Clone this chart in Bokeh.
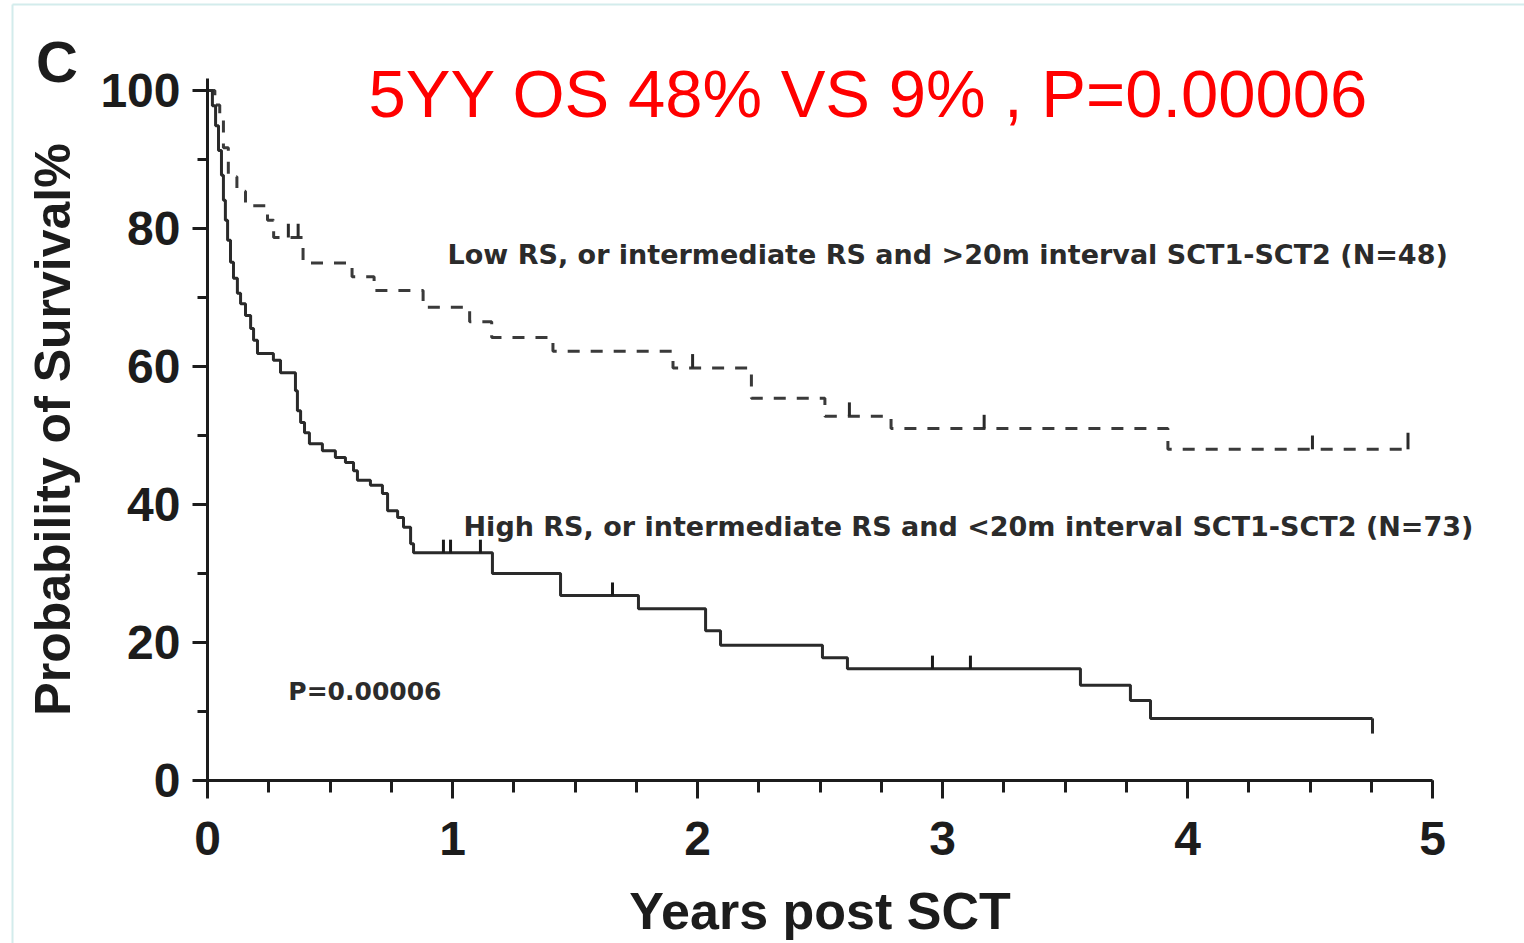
from bokeh.plotting import figure
from bokeh.models import Range1d, SingleIntervalTicker, Label
from bokeh.embed import file_html
from bokeh.resources import INLINE

# Kaplan-Meier steps: Low RS, or intermediate RS and >20m interval (N=48)
low_time = [0, 0.03, 0.05, 0.065, 0.085, 0.12, 0.155, 0.245, 0.27, 0.39, 0.59,
            0.68, 0.88, 1.07, 1.16, 1.41, 1.90, 2.22, 2.52, 2.79, 3.92, 4.90]
low_surv = [100, 97.9, 95.8, 91.7, 87.5, 85.4, 83.3, 81.2, 78.7, 75.0, 73.0,
            71.0, 68.6, 66.5, 64.2, 62.2, 59.8, 55.4, 52.8, 51.0, 48.0, 48.0]
low_censor = [0.33, 0.37, 1.98, 2.62, 3.17, 4.51]

# Kaplan-Meier steps: High RS, or intermediate RS and <20m interval (N=73)
high_time = [0, 0.020, 0.033, 0.045, 0.057, 0.065, 0.073, 0.082, 0.094, 0.106,
             0.122, 0.135, 0.155, 0.176, 0.188, 0.204, 0.269, 0.298, 0.359, 0.367,
             0.380, 0.396, 0.416, 0.469, 0.522, 0.563, 0.596, 0.612, 0.665, 0.714,
             0.735, 0.776, 0.800, 0.829, 0.841, 1.163, 1.441, 1.759, 2.033, 2.094,
             2.510, 2.612, 3.563, 3.767, 3.849, 4.755]
high_surv = [100, 97.8, 94.9, 91.3, 87.7, 84.1, 81.2, 78.3, 75.1, 72.8,
             70.6, 69.1, 67.4, 65.5, 63.8, 61.9, 60.9, 59.1, 56.5, 53.6,
             51.9, 50.4, 48.8, 47.8, 46.8, 46.1, 44.9, 43.5, 42.8, 41.6,
             39.1, 38.1, 36.7, 34.3, 33.0, 30.0, 26.8, 24.9, 21.7, 19.6,
             17.8, 16.2, 13.8, 11.6, 9.0, 9.0]
high_censor = [0.963, 0.992, 1.114, 1.653, 2.959, 3.114]

x_ticks = [0, 1, 2, 3, 4, 5]
y_ticks = [0, 20, 40, 60, 80, 100]

headline = "5YY OS 48% VS 9% , P=0.00006"
panel_letter = "C"
low_label = "Low RS, or intermediate RS and >20m interval SCT1-SCT2 (N=48)"
high_label = "High RS, or intermediate RS and <20m interval SCT1-SCT2 (N=73)"
p_label = "P=0.00006"


def level_at(times, surv, t):
    v = surv[0]
    for ti, si in zip(times, surv):
        if ti <= t:
            v = si
    return v


INK = "#1c1c1c"
FONT = "Liberation Sans"
NOTE_FONT = "DejaVu Sans"

# The frame spans the whole canvas; axes are pinned at x=0 / y=0 so that
# the panel letter and headline sit freely around the plot area.
W, H = 1524, 943
X0_PX, X_PER = 207, 245.0      # pixel of t=0, pixels per year
Y0_PX, Y_PER = 780, 6.9        # pixel (from top) of 0 %, pixels per percent
x_lo = -X0_PX / X_PER
x_hi = (W - X0_PX) / X_PER
y_lo = -(H - Y0_PX) / Y_PER
y_hi = Y0_PX / Y_PER
Y_TOP = 101.7

p = figure(width=W, height=H, output_backend="svg", toolbar_location=None,
           title=None, x_range=Range1d(x_lo, x_hi), y_range=Range1d(y_lo, y_hi),
           min_border=0)
p.background_fill_color = "white"
p.border_fill_color = "white"
p.outline_line_color = None
p.xgrid.visible = False
p.ygrid.visible = False

# faint page frame
p.line([x_lo + 12 / X_PER] * 2, [y_lo, y_hi - 4 / Y_PER], line_color="#d3ecec",
       line_width=2)
p.line([x_lo + 12 / X_PER, x_hi], [y_hi - 4 / Y_PER] * 2, line_color="#d3ecec",
       line_width=2)

# axes
p.xaxis.ticker = SingleIntervalTicker(interval=1, num_minor_ticks=4)
p.yaxis.ticker = SingleIntervalTicker(interval=20, num_minor_ticks=2)
p.xaxis.fixed_location = 0
p.yaxis.fixed_location = 0
p.xaxis.bounds = (0, 5)
p.yaxis.bounds = (0, Y_TOP)
for ax in (p.xaxis, p.yaxis):
    ax.axis_line_color = INK
    ax.axis_line_width = 3
    ax.major_tick_line_color = INK
    ax.major_tick_line_width = 3
    ax.minor_tick_line_color = INK
    ax.minor_tick_line_width = 3
    ax.major_tick_in = 0
    ax.minor_tick_in = 0
    ax.major_label_text_font = FONT
    ax.major_label_text_font_style = "bold"
    ax.major_label_text_font_size = "48px"
    ax.major_label_text_color = INK
    ax.axis_label_text_font = FONT
    ax.axis_label_text_font_style = "bold"
    ax.axis_label_text_color = INK

p.xaxis.major_tick_out = 18
p.xaxis.minor_tick_out = 12
p.xaxis.major_label_standoff = 23
p.xaxis.axis_label = "Years post SCT"
p.xaxis.axis_label_text_font_size = "52px"
p.xaxis.axis_label_standoff = 24

p.yaxis.major_tick_out = 15
p.yaxis.minor_tick_out = 10
p.yaxis.major_label_standoff = 12
p.yaxis.axis_label = "Probability of Survival%"
p.yaxis.axis_label_text_font_size = "50px"
p.yaxis.axis_label_standoff = 16

# survival curves
p.step(low_time, low_surv, mode="after", line_color="#3a3a3a",
       line_width=3, line_dash="12 11")
p.step(high_time, high_surv, mode="after", line_color="#2a2a2a", line_width=3)

# censor marks
lc_y = [level_at(low_time, low_surv, t) for t in low_censor]
p.segment(x0=low_censor, y0=lc_y, x1=low_censor, y1=[v + 2.0 for v in lc_y],
          line_color="#2a2a2a", line_width=3)
p.segment(x0=[low_time[-1]], y0=[low_surv[-1]], x1=[low_time[-1]],
          y1=[low_surv[-1] + 2.4], line_color="#2a2a2a", line_width=3)
hc_y = [level_at(high_time, high_surv, t) for t in high_censor]
p.segment(x0=high_censor, y0=hc_y, x1=high_censor, y1=[v + 1.9 for v in hc_y],
          line_color="#1a1a1a", line_width=3)
p.segment(x0=[high_time[-1]], y0=[high_surv[-1]], x1=[high_time[-1]],
          y1=[high_surv[-1] - 2.2], line_color="#2a2a2a", line_width=3)

# annotations
p.add_layout(Label(x=0.657, y=99.6, text=headline, text_font=FONT,
                   text_font_size="67px", text_color="#ff0000",
                   text_baseline="middle"))
p.add_layout(Label(x=-0.70, y=104.2, text=panel_letter, text_font=FONT,
                   text_font_style="bold", text_font_size="58px",
                   text_color=INK, text_baseline="middle"))
p.add_layout(Label(x=0.98, y=76.2, text=low_label, text_font=NOTE_FONT,
                   text_font_style="bold", text_font_size="27px",
                   text_color="#2b2b2b", text_baseline="middle"))
p.add_layout(Label(x=1.045, y=36.8, text=high_label, text_font=NOTE_FONT,
                   text_font_style="bold", text_font_size="27px",
                   text_color="#2b2b2b", text_baseline="middle"))
p.add_layout(Label(x=0.33, y=12.9, text=p_label, text_font=NOTE_FONT,
                   text_font_style="bold", text_font_size="25px",
                   text_color="#2b2b2b", text_baseline="middle"))

open("out.html", "w").write(file_html(p, INLINE))
